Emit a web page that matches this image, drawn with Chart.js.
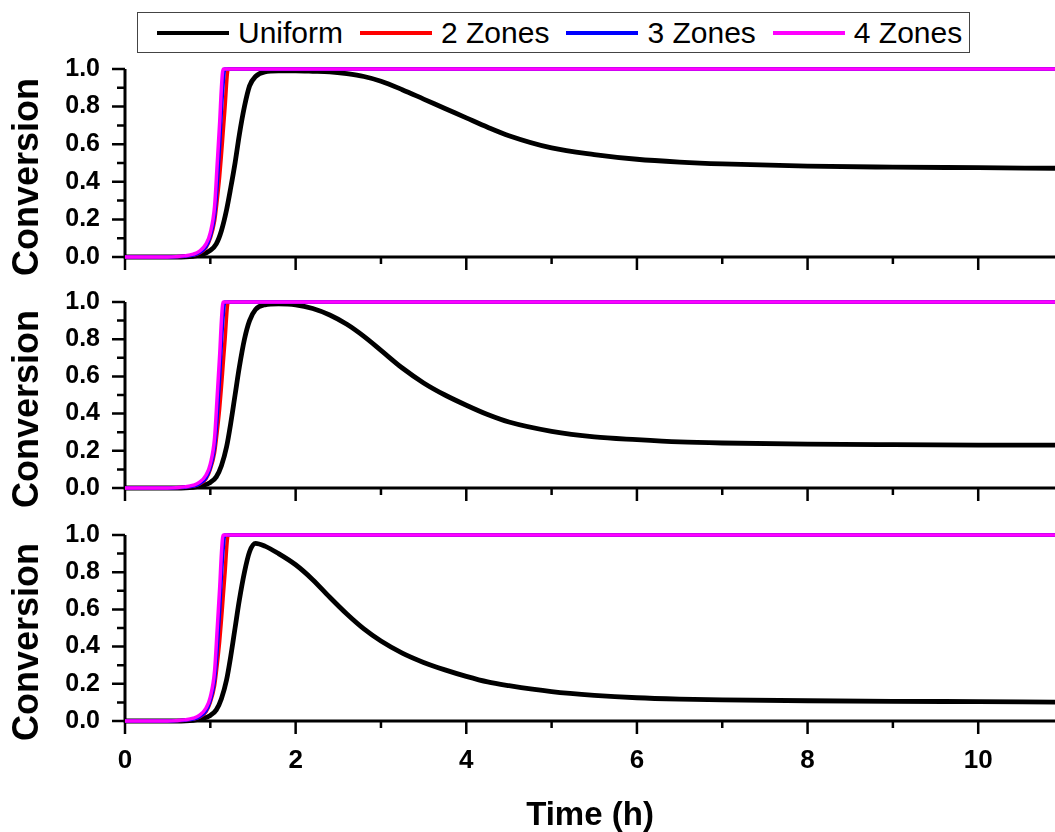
<!DOCTYPE html>
<html>
<head>
<meta charset="utf-8">
<script src="https://cdn.jsdelivr.net/npm/chart.js@4.4.1/dist/chart.umd.min.js"></script>
<style>
  body { margin: 0; background: #fff; }
  #wrap { position: relative; width: 1055px; height: 832px; font-family: "Liberation Sans", Arial, sans-serif; }
  .panel { position: absolute; left: 0; width: 1055px; }
  #legend { position: absolute; left: 137px; top: 12px; width: 833px; height: 41px; box-sizing: border-box;
            border: 1.5px solid #444; display: flex; align-items: center; padding-left: 19px; font-size: 30px; color: #000; }
  .item { display: flex; align-items: center; margin-right: 17px; white-space: nowrap; }
  .item:last-child { margin-right: 0; }
  .swatch { width: 72px; height: 4px; margin-right: 9px; }
</style>
</head>
<body>
<div id="wrap">
  <div id="legend"></div>
  <div class="panel" style="top:49px;height:228px"><canvas id="top"></canvas></div>
  <div class="panel" style="top:282px;height:226px"><canvas id="mid"></canvas></div>
  <div class="panel" style="top:515px;height:317px"><canvas id="bottom"></canvas></div>
</div>
<script>
const seriesNames = ['Uniform', '2 Zones', '3 Zones', '4 Zones'];
const seriesColors = ['#000000', '#ff0000', '#0000ff', '#ff00ff'];

// time (h) for the uniform curves
const uniformTime = [0, 0.6, 0.8, 0.9, 1.0, 1.07, 1.13, 1.19, 1.24, 1.29, 1.34, 1.40, 1.46, 1.53, 1.64, 1.8,
  2.0, 2.2, 2.4, 2.6, 2.8, 3.0, 3.25, 3.5, 3.75, 4.0, 4.25, 4.5, 5.0, 5.5, 6.0, 6.5, 7.0, 8.0, 9.0, 10.0, 10.9];
const uniformTop = [0, 0, 0.004, 0.012, 0.035, 0.07, 0.14, 0.25, 0.37, 0.5, 0.65, 0.8, 0.91, 0.96, 0.985, 0.99,
  0.99, 0.988, 0.985, 0.975, 0.96, 0.935, 0.89, 0.84, 0.79, 0.74, 0.69, 0.645, 0.58, 0.545, 0.52, 0.505, 0.495, 0.483, 0.478, 0.475, 0.472];
const uniformMid = [0, 0, 0.004, 0.012, 0.03, 0.06, 0.12, 0.22, 0.35, 0.5, 0.65, 0.8, 0.9, 0.96, 0.985, 0.99,
  0.985, 0.965, 0.93, 0.88, 0.815, 0.74, 0.645, 0.565, 0.5, 0.445, 0.395, 0.355, 0.305, 0.275, 0.26, 0.248, 0.242, 0.236, 0.233, 0.231, 0.23];
const uniformBottom = [0, 0, 0.004, 0.012, 0.03, 0.06, 0.12, 0.22, 0.35, 0.5, 0.65, 0.8, 0.91, 0.955, 0.94, 0.9,
  0.84, 0.76, 0.665, 0.575, 0.495, 0.43, 0.365, 0.315, 0.275, 0.24, 0.21, 0.19, 0.158, 0.138, 0.125, 0.118, 0.114, 0.109, 0.106, 0.104, 0.102];

// time (h) for the zoned curves
const zoneTime = [0, 0.5, 0.6, 0.7, 0.8, 0.87, 0.95, 1.0, 1.05, 1.08, 1.11, 1.13, 1.15, 1.17, 1.21, 10.9];
const twoZones = [0, 0, 0.001, 0.004, 0.01, 0.02, 0.05, 0.1, 0.19, 0.3, 0.43, 0.54, 0.66, 0.78, 1.0, 1.0];
const threeZones = [0, 0, 0.001, 0.004, 0.01, 0.022, 0.055, 0.11, 0.22, 0.38, 0.6, 0.78, 0.92, 1.0, 1.0, 1.0];
const fourZones = [0, 0, 0.002, 0.006, 0.015, 0.03, 0.07, 0.13, 0.27, 0.49, 0.72, 0.9, 1.0, 1.0, 1.0, 1.0];

const FONT = '"Liberation Sans", Arial, sans-serif';

// html legend with a frame
const legendEl = document.getElementById('legend');
seriesNames.forEach((name, i) => {
  const item = document.createElement('div');
  item.className = 'item';
  item.innerHTML = '<span class="swatch" style="background:' + seriesColors[i] + '"></span><span>' + name + '</span>';
  legendEl.appendChild(item);
});

const toPoints = (xs, ys) => xs.map((x, i) => ({ x: x, y: ys[i] }));

// axis lines with major/minor tick marks
const axisLines = {
  id: 'axisLines',
  beforeDatasetsDraw(chart) {
    const { ctx, chartArea, scales: { x, y } } = chart;
    const y0 = y.getPixelForValue(0);
    const y1 = y.getPixelForValue(1);
    ctx.save();
    ctx.strokeStyle = '#000';
    ctx.lineWidth = 3;
    ctx.beginPath();
    ctx.moveTo(chartArea.left, y0 + 1.5);
    ctx.lineTo(chartArea.left, y1);
    ctx.moveTo(chartArea.left - 1.5, y0);
    ctx.lineTo(chartArea.right, y0);
    ctx.stroke();
    ctx.lineWidth = 2.5;
    ctx.beginPath();
    for (let i = 0; i <= 10; i++) {
      const py = y.getPixelForValue(i / 10);
      const len = i % 2 === 0 ? 13 : 8;
      ctx.moveTo(chartArea.left, py);
      ctx.lineTo(chartArea.left - len, py);
    }
    for (let t = 0; t <= 10; t++) {
      const px = x.getPixelForValue(t);
      const len = t % 2 === 0 ? 13 : 7;
      ctx.moveTo(px, y0);
      ctx.lineTo(px, y0 + len);
    }
    ctx.stroke();
    ctx.restore();
  }
};

// y title sits a bit below the middle of each panel in the original, so draw it here
const yTitle = {
  id: 'yTitle',
  afterDraw(chart) {
    const { ctx, chartArea } = chart;
    ctx.save();
    ctx.translate(28, (chartArea.top + chartArea.bottom) / 2 + 14);
    ctx.rotate(-Math.PI / 2);
    ctx.fillStyle = '#000';
    ctx.font = 'bold 36px ' + FONT;
    ctx.textAlign = 'center';
    ctx.textBaseline = 'middle';
    ctx.fillText('Conversion', 0, 0);
    ctx.restore();
  }
};

function buildPanel(id, uniformValues, isBottom) {
  const axisHeight = isBottom ? 111 : 20;
  const zoneData = [twoZones, threeZones, fourZones];
  const datasets = [{
    label: seriesNames[0],
    data: toPoints(uniformTime, uniformValues),
    borderColor: seriesColors[0],
    borderWidth: 4.8,
    order: 3,
    clip: false
  }];
  zoneData.forEach((vals, i) => {
    datasets.push({
      label: seriesNames[i + 1],
      data: toPoints(zoneTime, vals),
      borderColor: seriesColors[i + 1],
      borderWidth: 3.5,
      order: 2 - i,
      clip: false
    });
  });

  // tick marks themselves are drawn by axisLines; the transparent grid ticks only space the labels
  return new Chart(document.getElementById(id), {
    type: 'line',
    data: { datasets: datasets },
    options: {
      responsive: true,
      maintainAspectRatio: false,
      animation: false,
      layout: { padding: { top: 20, left: 0, right: 0, bottom: 0 } },
      elements: {
        point: { radius: 0 },
        line: { cubicInterpolationMode: 'monotone', fill: false }
      },
      plugins: { legend: { display: false }, tooltip: { enabled: false } },
      scales: {
        x: {
          type: 'linear',
          min: 0,
          max: 10.9,
          grid: { display: true, drawOnChartArea: false, drawTicks: true, tickLength: 20, color: 'transparent' },
          border: { display: false },
          ticks: {
            display: isBottom,
            stepSize: 2,
            includeBounds: false,
            maxRotation: 0,
            padding: 4,
            color: '#000',
            font: { family: FONT, size: 26, weight: 'bold' }
          },
          title: {
            display: isBottom,
            text: 'Time (h)',
            color: '#000',
            padding: { top: 0, bottom: 0 },
            font: { family: FONT, size: 33, weight: 'bold', lineHeight: 1 }
          },
          afterFit: (s) => { s.height = axisHeight; }
        },
        y: {
          min: 0,
          max: 1,
          grid: { display: true, drawOnChartArea: false, drawTicks: true, tickLength: 25, color: 'transparent' },
          border: { display: false },
          ticks: {
            stepSize: 0.2,
            autoSkip: false,
            padding: 0,
            color: '#000',
            callback: (v) => v.toFixed(1),
            font: { family: FONT, size: 25, weight: 'bold', lineHeight: 1 }
          },
          afterFit: (s) => { s.width = 125; }
        }
      }
    },
    plugins: [axisLines, yTitle]
  });
}

buildPanel('top', uniformTop, false);
buildPanel('mid', uniformMid, false);
buildPanel('bottom', uniformBottom, true);
</script>
</body>
</html>
